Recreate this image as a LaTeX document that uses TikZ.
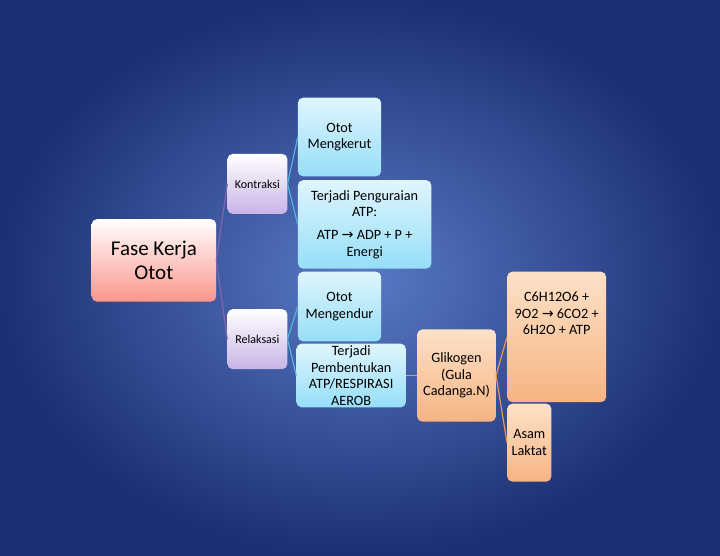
\documentclass[tikz,border=0pt]{standalone}
\usepackage{fontspec}
\setmainfont{Carlito}
\newfontfamily\symb{DejaVu Sans}
\usetikzlibrary{positioning}
\definecolor{bgin}{RGB}{90,122,198}
\definecolor{bgout}{RGB}{28,48,115}
\definecolor{redcol}{RGB}{250,150,140}
\definecolor{lilaccol}{RGB}{200,180,230}
\definecolor{cyancol}{RGB}{150,222,248}
\definecolor{orangecol}{RGB}{246,180,130}
\definecolor{orangetop}{RGB}{252,225,200}
\definecolor{purpleline}{RGB}{130,100,170}
\definecolor{cyanline}{RGB}{80,180,215}
\definecolor{orangeline}{RGB}{230,150,90}
\newcommand{\arr}{{\symb →}}

\begin{document}
\begin{tikzpicture}[
			x=1pt, y=-1pt,
			box/.style={
				rounded corners=7pt,
				anchor=north west,
				align=center,
				inner sep=2pt,
				font=\fontsize{19}{22}\selectfont
			},
			redbox/.style={box, top color=white, bottom color=redcol},
			lilacbox/.style={box, top color=white, bottom color=lilaccol,
				font=\fontsize{16}{19}\selectfont},
			cyanbox/.style={box, top color=white!70!cyancol, bottom color=cyancol},
			orangebox/.style={box, top color=orangetop, bottom color=orangecol},
			link/.style={line width=1.6pt}
			]
			% Background
			\shade[inner color=bgin, outer color=bgout] (-120,-100) rectangle (840,640);
			\useasboundingbox (0,0) rectangle (720,540);
			
			% Boxes
			\node[redbox, minimum width=166pt, minimum height=110pt,
				font=\fontsize{28}{31}\selectfont] (fase) at (2,192) {Fase Kerja\\Otot};
			\node[lilacbox, minimum width=80pt, minimum height=80pt] (kontraksi) at (183,105) {Kontraksi};
			\node[lilacbox, minimum width=80pt, minimum height=80pt] (relaksasi) at (183,312) {Relaksasi};
			\node[cyanbox, minimum width=111pt, minimum height=105pt] (mengkerut) at (277,30) {Otot\\Mengkerut};
			\node[cyanbox, minimum width=178pt, minimum height=118pt] (penguraian) at (277,140)
				{Terjadi Penguraian\\ATP:\\[9pt]ATP \arr\ ADP + P +\\Energi};
			\node[cyanbox, minimum width=111pt, minimum height=93pt] (mengendur) at (277,262) {Otot\\Mengendur};
			\node[cyanbox, minimum width=146pt, minimum height=85pt] (pembentukan) at (275,358)
				{Terjadi\\Pembentukan\\ATP/RESPIRASI\\AEROB};
			\node[orangebox, minimum width=105pt, minimum height=123pt] (glikogen) at (436,339)
				{Glikogen\\(Gula\\Cadanga.N)};
			\node[orangebox, minimum width=132pt, minimum height=174pt] (reaksi) at (556,262)
				{C6H12O6 +\\9O2 \arr\ 6CO2 +\\6H2O + ATP\\[40pt]};
			\node[orangebox, minimum width=59pt, minimum height=104pt] (laktat) at (556,438)
				{Asam\\Laktat};
			
			% Connectors
			\draw[link, purpleline] (fase.east) -- (kontraksi.west);
			\draw[link, purpleline] (fase.east) -- (relaksasi.west);
			\draw[link, cyanline] (kontraksi.east) -- (mengkerut.west);
			\draw[link, cyanline] (kontraksi.east) -- (penguraian.west);
			\draw[link, cyanline] (relaksasi.east) -- (mengendur.west);
			\draw[link, cyanline] (relaksasi.east) -- (pembentukan.west);
			\draw[link, orangeline] (pembentukan.east) -- (glikogen.west);
			\draw[link, orangeline] (glikogen.east) -- (reaksi.west);
			\draw[link, orangeline] (glikogen.east) -- (laktat.west);
		\end{tikzpicture}
\end{document}
